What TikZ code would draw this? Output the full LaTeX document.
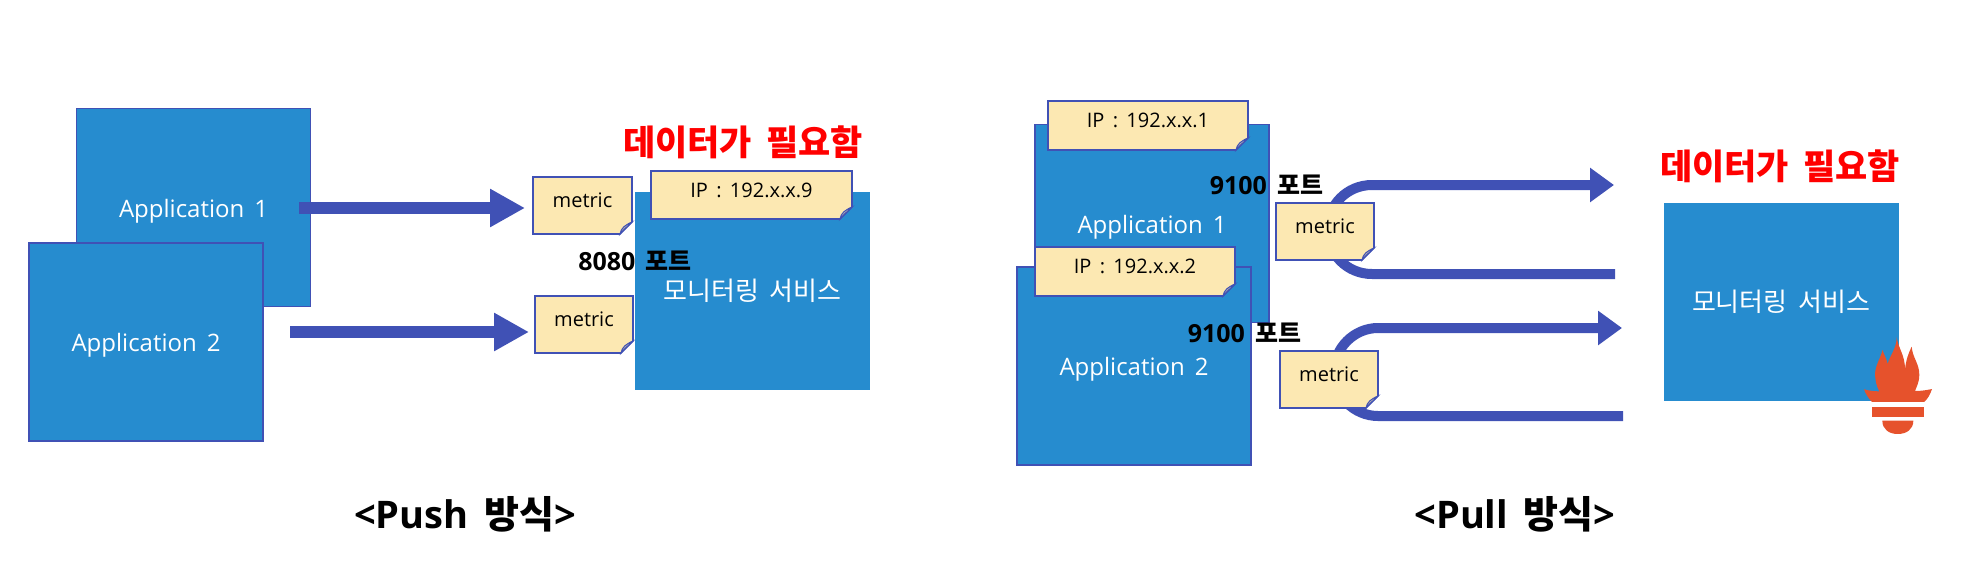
\documentclass[tikz,border=0pt]{standalone}
\usepackage{fontspec}
\setmainfont[WordSpace=1.6]{Open Sans}
\newfontfamily\krfont[WordSpace=1.8]{Noto Sans CJK KR}
\usetikzlibrary{arrows.meta}

\definecolor{boxblue}{HTML}{268CCF}
\definecolor{edgeblue}{HTML}{4051B5}
\definecolor{noteyellow}{HTML}{FCE8B2}
\definecolor{curlgrey}{HTML}{B9B4B0}
\definecolor{flameorange}{HTML}{E6522C}

\newcommand{\kr}[1]{{\krfont #1}}
% name, left, top, right, bottom, text
\newcommand{\notebox}[6]{
    \draw[noteedge, fill=noteyellow] (#2,#3) -- (#4,#3) -- (#4,#5-12) -- (#4-12,#5) -- (#2,#5) -- cycle;
    \draw[noteedge, line width=1pt, fill=curlgrey] (#4-12,#5) .. controls (#4-11,#5-6) and (#4-7,#5-9) .. (#4,#5-12) .. controls (#4-5,#5-7) and (#4-8,#5-5) .. (#4-12,#5) -- cycle;
    \node [notetext] (#1) at ({(#2+#4)/2},{(#3+#5)/2}) {#6};
}

\tikzset{
    appbox/.style={draw=edgeblue, line width=1.6pt, fill=boxblue, text=white, minimum width=234pt, minimum height=198pt, inner sep=0pt, text height=19pt, text depth=0pt, font=\fontsize{24}{26}\selectfont},
    monbox/.style={fill=boxblue, text=white, minimum width=235pt, minimum height=198pt, inner sep=0pt, font=\fontsize{26}{28}\selectfont},
    noteedge/.style={draw=edgeblue, line width=1.6pt, line join=miter},
    notetext/.style={inner sep=0pt, yshift=5pt, font=\fontsize{20}{24}\selectfont},
    wideflow/.style={draw=edgeblue, line width=12pt, -{Triangle[length=35pt,width=36pt]}},
    thinflow/.style={draw=edgeblue, line width=10pt, -{Triangle[length=24pt,width=33pt]}},
    porttext/.style={inner sep=0pt, yshift=1pt, font=\bfseries\fontsize{25}{26}\selectfont},
    needtext/.style={inner sep=0pt, text=red, yshift=1pt, font=\bfseries\fontsize{35}{40}\selectfont},
    modetext/.style={inner sep=0pt, yshift=-1pt, font=\bfseries\fontsize{38}{40}\selectfont}
}

\begin{document}
\begin{tikzpicture}[x=1pt, y=-1pt]
    \useasboundingbox (0,0) rectangle (1972,576);

    %Push
    \node [appbox] (pushapp1) at (193.5,207.5) {Application 1};
    \coordinate (pushstart1) at (299,208);
    \coordinate (pushend1) at (525,208);
    \draw[wideflow] (pushstart1) -- (pushend1);
    \node [appbox] (pushapp2) at (146,342) {Application 2};
    \coordinate (pushstart2) at (290,332);
    \coordinate (pushend2) at (529,332);
    \draw[wideflow] (pushstart2) -- (pushend2);

    \notebox{pushmetric1}{533}{177}{632}{234}{metric}
    \notebox{pushmetric2}{535}{296}{633}{353}{metric}

    \node [monbox] (pushmon) at (752.5,291) {\kr{모니터링 서비스}};
    \notebox{puship}{651}{171}{852}{219}{IP : 192.x.x.9}
    \node [needtext] (pushneed) at (743,143) {\kr{데이터가 필요함}};
    \node [porttext] (pushport) at (635,262) {8080 \kr{포트}};
    \node [modetext] (pushmode) at (465,513) {<Push \kr{방식}>};

    %Pull
    \node [appbox] (pullapp1) at (1152,223.5) {Application 1};
    \notebox{pullip1}{1048}{101}{1248}{150}{IP : 192.x.x.1}
    \node [appbox] (pullapp2) at (1134,366) {Application 2};
    \notebox{pullip2}{1035}{247}{1235}{296}{IP : 192.x.x.2}

    \coordinate (pulltail1) at (1615,274);
    \coordinate (pullhead1) at (1614,185);
    \draw[thinflow] (pulltail1) -- (1372,274) .. controls (1347,274) and (1327.5,254) .. (1327.5,229.5) .. controls (1327.5,205) and (1347,185) .. (1372,185) -- (pullhead1);
    \coordinate (pulltail2) at (1623,416);
    \coordinate (pullhead2) at (1622,328);
    \draw[thinflow] (pulltail2) -- (1378,416) .. controls (1354,416) and (1334,396) .. (1334,372) .. controls (1334,348) and (1354,328) .. (1378,328) -- (pullhead2);

    \notebox{pullmetric1}{1276}{203}{1374}{260}{metric}
    \notebox{pullmetric2}{1280}{351}{1378}{408}{metric}

    \node [porttext] (pullport1) at (1266.5,186) {9100 \kr{포트}};
    \node [porttext] (pullport2) at (1244.5,334) {9100 \kr{포트}};

    \node [monbox] (pullmon) at (1781,302) {\kr{모니터링 서비스}};
    \node [needtext] (pullneed) at (1780,167) {\kr{데이터가 필요함}};
    \node [modetext] (pullmode) at (1515,513) {<Pull \kr{방식}>};

    %flame
    \begin{scope}[shift={(1850,320)}, x=0.3333pt, y=-0.3333pt]
        \fill[flameorange] (140,52) .. controls (145,85) and (165,105) .. (165,148) .. controls (168,120) and (175,100) .. (185,80) .. controls (188,115) and (208,130) .. (208,165) .. controls (208,185) and (200,200) .. (195,213) .. controls (215,213) and (232,210) .. (246,207) .. controls (240,225) and (232,238) .. (222,246) -- (66,246) .. controls (55,235) and (47,222) .. (42,208) .. controls (58,212) and (72,214) .. (88,214) .. controls (80,200) and (75,180) .. (75,160) .. controls (78,130) and (92,115) .. (97,90) .. controls (103,105) and (110,118) .. (113,132) .. controls (120,105) and (140,85) .. (140,52) -- cycle;
        \fill[flameorange] (65,262) rectangle (222,290);
        \fill[flameorange] (97,302) -- (190,302) .. controls (190,328) and (170,342) .. (143,342) .. controls (117,342) and (97,328) .. (97,302) -- cycle;
    \end{scope}
\end{tikzpicture}
\end{document}
